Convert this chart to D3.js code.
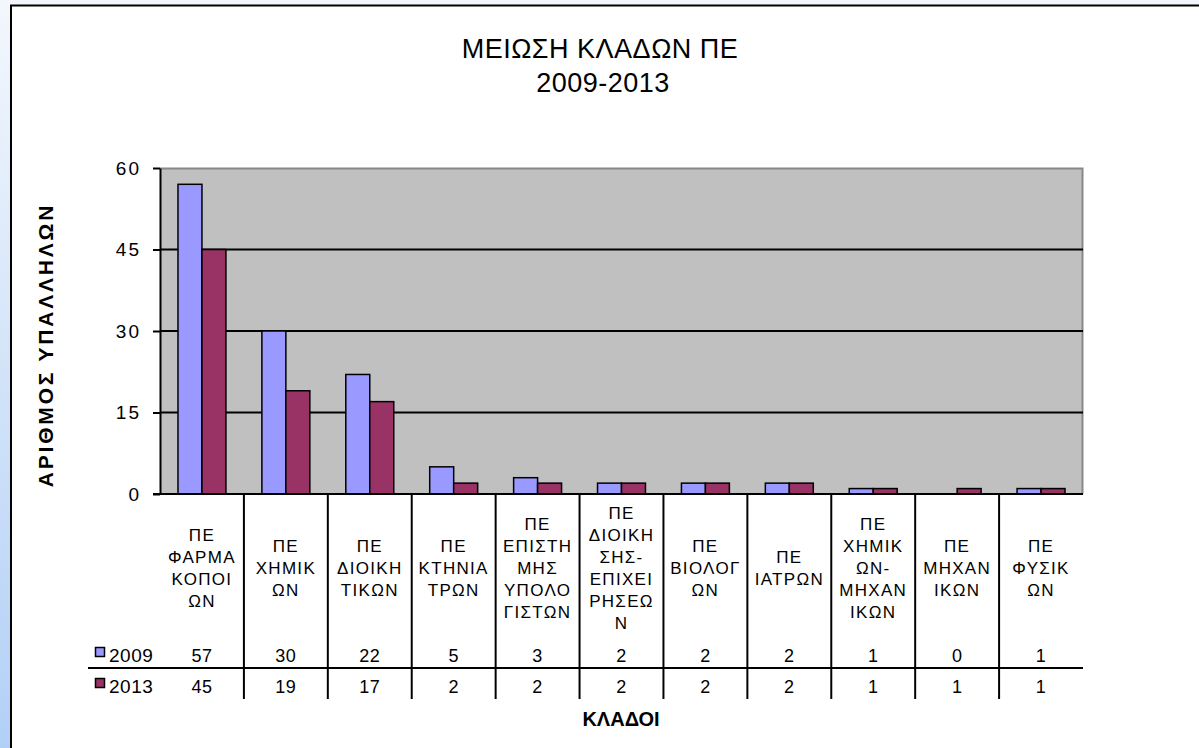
<!DOCTYPE html>
<html>
<head>
<meta charset="utf-8">
<script src="https://cdn.jsdelivr.net/npm/d3@7"></script>
<style>
  html, body { margin: 0; padding: 0; background: #fff; }
  svg { display: block; font-family: "Liberation Sans", Arial, sans-serif; }
</style>
</head>
<body>
<div id="chart"></div>
<script>
// Data
const categories = [
    ['ΠΕ', 'ΦΑΡΜΑ', 'ΚΟΠΟΙ', 'ΩΝ'],
    ['ΠΕ', 'ΧΗΜΙΚ', 'ΩΝ'],
    ['ΠΕ', 'ΔΙΟΙΚΗ', 'ΤΙΚΩΝ'],
    ['ΠΕ', 'ΚΤΗΝΙΑ', 'ΤΡΩΝ'],
    ['ΠΕ', 'ΕΠΙΣΤΗ', 'ΜΗΣ', 'ΥΠΟΛΟ', 'ΓΙΣΤΩΝ'],
    ['ΠΕ', 'ΔΙΟΙΚΗ', 'ΣΗΣ-', 'ΕΠΙΧΕΙ', 'ΡΗΣΕΩ', 'Ν'],
    ['ΠΕ', 'ΒΙΟΛΟΓ', 'ΩΝ'],
    ['ΠΕ', 'ΙΑΤΡΩΝ'],
    ['ΠΕ', 'ΧΗΜΙΚ', 'ΩΝ-', 'ΜΗΧΑΝ', 'ΙΚΩΝ'],
    ['ΠΕ', 'ΜΗΧΑΝ', 'ΙΚΩΝ'],
    ['ΠΕ', 'ΦΥΣΙΚ', 'ΩΝ']
];
const seriesNames = ['2009', '2013'];
const values2009 = [57, 30, 22, 5, 3, 2, 2, 2, 1, 0, 1];
const values2013 = [45, 19, 17, 2, 2, 2, 2, 2, 1, 1, 1];
const yTicks = [0, 15, 30, 45, 60];
const seriesColors = ['#9999FF', '#993366'];

const width = 1199, height = 748;
const plot = { left: 160, right: 1083, top: 168, bottom: 494 };

const svg = d3.select('#chart').append('svg')
    .attr('width', width)
    .attr('height', height);

// page background + frame
const defs = svg.append('defs');
const grad = defs.append('linearGradient')
    .attr('id', 'bg')
    .attr('x1', 0).attr('y1', 0).attr('x2', 0).attr('y2', 1);
grad.append('stop').attr('offset', '0%').attr('stop-color', '#f3f7fd');
grad.append('stop').attr('offset', '100%').attr('stop-color', '#b2d0f6');

svg.append('rect')
    .attr('width', width).attr('height', height)
    .attr('fill', 'url(#bg)');

svg.append('rect')
    .attr('x', 11).attr('y', 5.5)
    .attr('width', 1300).attr('height', 800)
    .attr('fill', '#fff')
    .attr('stroke', '#000')
    .attr('stroke-width', 2);

// title
const title = svg.append('text')
    .attr('text-anchor', 'middle')
    .attr('font-size', 27)
    .attr('letter-spacing', 0.5)
    .attr('fill', '#000');
title.append('tspan').attr('x', 600).attr('y', 58).text('ΜΕΙΩΣΗ ΚΛΑΔΩΝ  ΠΕ');
title.append('tspan').attr('x', 603).attr('y', 92).text('2009-2013');

// scales
const x = d3.scaleBand()
    .domain(d3.range(categories.length))
    .range([plot.left, plot.right])
    .paddingInner(0)
    .paddingOuter(0);

const xSub = d3.scaleBand()
    .domain(seriesNames)
    .range([0, x.bandwidth()])
    .paddingInner(0)
    .paddingOuter(0.75);

const y = d3.scaleLinear()
    .domain([0, 60])
    .range([plot.bottom, plot.top]);

// plot area
svg.append('rect')
    .attr('x', plot.left).attr('y', plot.top)
    .attr('width', plot.right - plot.left)
    .attr('height', plot.bottom - plot.top)
    .attr('fill', '#C0C0C0');

// plot border top/right (gray)
svg.append('path')
    .attr('d', `M${plot.left},${plot.top + 0.5}H${plot.right - 0.5}V${plot.bottom}`)
    .attr('fill', 'none')
    .attr('stroke', '#888')
    .attr('stroke-width', 2);

// gridlines
svg.append('g').selectAll('line')
    .data(yTicks.filter(t => t > 0 && t < 60))
    .enter().append('line')
    .attr('x1', plot.left).attr('x2', plot.right)
    .attr('y1', d => y(d)).attr('y2', d => y(d))
    .attr('stroke', '#000')
    .attr('stroke-width', 2);

// bars
const groups = svg.append('g').selectAll('g')
    .data(categories.map((c, i) => i))
    .enter().append('g')
    .attr('transform', i => `translate(${x(i)},0)`);

groups.selectAll('rect')
    .data(i => [
        { s: '2009', v: values2009[i], c: seriesColors[0] },
        { s: '2013', v: values2013[i], c: seriesColors[1] }
    ].filter(d => d.v > 0))
    .enter().append('rect')
    .attr('x', d => xSub(d.s))
    .attr('y', d => y(d.v))
    .attr('width', xSub.bandwidth())
    .attr('height', d => y(0) - y(d.v))
    .attr('fill', d => d.c)
    .attr('stroke', '#000')
    .attr('stroke-width', 1.5);

// y axis
const yAxis = svg.append('g')
    .attr('transform', `translate(${plot.left},0)`)
    .call(d3.axisLeft(y).tickValues(yTicks).tickSize(7).tickSizeOuter(0).tickPadding(12));
yAxis.select('.domain').attr('stroke', '#000').attr('stroke-width', 2);
yAxis.selectAll('.tick line').attr('stroke', '#000').attr('stroke-width', 2);
yAxis.selectAll('.tick text')
    .attr('font-size', 19)
    .attr('font-family', '"Liberation Sans", Arial, sans-serif')
    .attr('letter-spacing', 2)
    .attr('fill', '#000');

// baseline
svg.append('line')
    .attr('x1', plot.left - 7).attr('x2', plot.right)
    .attr('y1', y(0)).attr('y2', y(0))
    .attr('stroke', '#000')
    .attr('stroke-width', 2);

// data table
const rowBase = [662, 693];
const rowSep = 668;
const tableBottom = 699;

svg.append('g').selectAll('line')
    .data(d3.range(1, categories.length))
    .enter().append('line')
    .attr('x1', i => x(i)).attr('x2', i => x(i))
    .attr('y1', plot.bottom).attr('y2', tableBottom)
    .attr('stroke', '#000')
    .attr('stroke-width', 2);

svg.append('line')
    .attr('x1', 88).attr('x2', plot.right)
    .attr('y1', rowSep).attr('y2', rowSep)
    .attr('stroke', '#000')
    .attr('stroke-width', 2);

// category labels (wrapped as in the original)
const lineH = 22, labelCenter = 568;
const catLabels = svg.append('g').selectAll('text')
    .data(categories)
    .enter().append('text')
    .attr('text-anchor', 'middle')
    .attr('font-size', 17)
    .attr('letter-spacing', 1.3)
    .attr('fill', '#000');
catLabels.each(function (lines, i) {
    const t = d3.select(this);
    const start = labelCenter - (lines.length - 1) / 2 * lineH + 6;
    lines.forEach((ln, k) => {
        t.append('tspan')
            .attr('x', x(i) + x.bandwidth() / 2)
            .attr('y', start + k * lineH)
            .text(ln);
    });
});

// table values
[values2009, values2013].forEach((vals, r) => {
    svg.append('g').selectAll('text')
        .data(vals)
        .enter().append('text')
        .attr('x', (d, i) => x(i) + x.bandwidth() / 2)
        .attr('y', rowBase[r])
        .attr('text-anchor', 'middle')
        .attr('font-size', 18)
        .attr('letter-spacing', 0.5)
        .attr('fill', '#000')
        .text(d => d);
});

// legend keys in table
seriesNames.forEach((s, r) => {
    svg.append('rect')
        .attr('x', 95.5).attr('y', rowBase[r] - 14.5)
        .attr('width', 9).attr('height', 9)
        .attr('fill', seriesColors[r])
        .attr('stroke', '#000')
        .attr('stroke-width', 1.5);
    svg.append('text')
        .attr('x', 109).attr('y', rowBase[r])
        .attr('font-size', 19)
        .attr('letter-spacing', 0.5)
        .attr('fill', '#000')
        .text(s);
});

// axis titles
svg.append('text')
    .attr('x', 621).attr('y', 726)
    .attr('text-anchor', 'middle')
    .attr('font-size', 20)
    .attr('font-weight', 'bold')
    .attr('fill', '#000')
    .text('ΚΛΑΔΟΙ');

svg.append('text')
    .attr('transform', 'translate(53,345) rotate(-90)')
    .attr('text-anchor', 'middle')
    .attr('font-size', 21)
    .attr('font-weight', 'bold')
    .attr('letter-spacing', 2.8)
    .attr('fill', '#000')
    .text('ΑΡΙΘΜΟΣ ΥΠΑΛΛΗΛΩΝ');
</script>
</body>
</html>
